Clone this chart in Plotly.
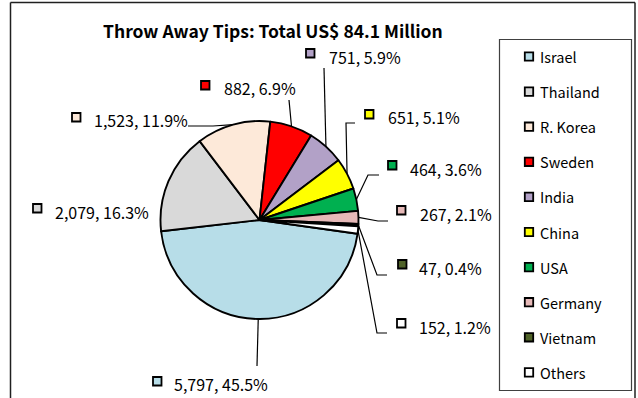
import math
import plotly.graph_objects as go

# ---- data ----
countries = ["Israel", "Thailand", "R. Korea", "Sweden", "India",
             "China", "USA", "Germany", "Vietnam", "Others"]
tips = [5797, 2079, 1523, 882, 751, 651, 464, 267, 47, 152]
shares = [45.5, 16.3, 11.9, 6.9, 5.9, 5.1, 3.6, 2.1, 0.4, 1.2]
title_text = "Throw Away Tips: Total US$ 84.1 Million"

colors = ["#B7DDE8", "#D9D9D9", "#FDE9D9", "#FF0000", "#B2A1C7",
          "#FFFF00", "#00B050", "#E6B9B8", "#4F6228", "#FFFFFF"]

# ---- layout geometry (pixels, origin top-left) ----
W, H = 638, 398
CX, CY, R = 259.5, 220.0, 99.0
ROTATION = 98

# label square top-left, text anchor (left, middle), leader vertices
label_square = [(153, 377), (33, 204), (72, 113), (201, 81), (306, 49),
                (365, 110), (388, 161), (397, 206), (398, 260), (397, 319)]
label_text = [(172, 384), (53, 212), (92, 120), (222, 88), (327, 57),
              (386, 117), (408, 169), (418, 214), (417, 268), (417, 327)]
leader_pts = [[(257, 366)], [], [(188, 126), (213, 126)], [(289, 100)],
              [(324, 68)], [(355, 123), (346, 123)], [(379, 175), (368, 175)],
              [(388, 221), (378, 221)], [(387, 275), (377, 275)],
              [(387, 333), (377, 333)]]

legend_box = (499.5, 39.5, 631.5, 390.5)
legend_sq_x = 529
legend_txt_x = 538
legend_y0, legend_dy = 56.5, 35.1

LABEL_FONT = dict(family="Noto Sans CJK JP, Noto Sans, sans-serif", size=16, color="#000")
LEG_FONT = dict(family="Noto Sans CJK JP, Noto Sans, sans-serif", size=14.5, color="#000")

fig = go.Figure()

fig.add_trace(go.Pie(
    labels=countries, values=tips, sort=False, direction="clockwise",
    rotation=ROTATION, textinfo="none", showlegend=False,
    marker=dict(colors=colors, line=dict(color="#000", width=1.9)),
    domain=dict(x=[(CX - R) / W, (CX + R) / W],
                y=[(H - CY - R) / H, (H - CY + R) / H]),
    hovertemplate="%{label}: %{value}<extra></extra>",
))

shapes = []
annotations = []

# leader lines from each label to the middle of its slice edge
total = sum(tips)
cum = 0.0
for i, v in enumerate(tips):
    mid = ROTATION + 360.0 * (cum + v / 2.0) / total
    cum += v
    if not leader_pts[i]:
        continue
    th = math.radians(mid)
    ex, ey = CX + R * math.sin(th), CY - R * math.cos(th)
    pts = leader_pts[i] + [(ex, ey)]
    path = "M " + " L ".join(f"{x:.2f},{y:.2f}" for x, y in pts)
    shapes.append(dict(type="path", xref="x", yref="y", path=path,
                       line=dict(color="#000", width=1.2), layer="below"))

# data labels
for i, name in enumerate(countries):
    sx, sy = label_square[i]
    shapes.append(dict(type="rect", xref="x", yref="y", x0=sx, y0=sy,
                       x1=sx + 8.5, y1=sy + 8.5, fillcolor=colors[i],
                       line=dict(color="#000", width=1.8), layer="above"))
    tx, ty = label_text[i]
    annotations.append(dict(x=tx, y=ty, xref="x", yref="y",
                            text=f"{tips[i]:,}, {shares[i]}%",
                            showarrow=False, xanchor="left", yanchor="middle",
                            font=LABEL_FONT))

# legend box
x0, y0, x1, y1 = legend_box
shapes.append(dict(type="rect", xref="x", yref="y", x0=x0, y0=y0, x1=x1, y1=y1,
                   fillcolor="#FFFFFF", line=dict(color="#404040", width=1.2),
                   layer="below"))
for i, name in enumerate(countries):
    yy = legend_y0 + i * legend_dy
    shapes.append(dict(type="rect", xref="x", yref="y",
                       x0=legend_sq_x - 4.2, y0=yy - 4.2,
                       x1=legend_sq_x + 4.2, y1=yy + 4.2, fillcolor=colors[i],
                       line=dict(color="#000", width=1.8), layer="above"))
    annotations.append(dict(x=legend_txt_x, y=yy, xref="x", yref="y", text=name,
                            showarrow=False, xanchor="left", yanchor="middle",
                            font=LEG_FONT))

# chart frame
for seg in [((10.5, 2.5), (10.5, 398)), ((10.5, 2.5), (635, 2.5)),
            ((635, 2.5), (635, 398))]:
    (ax, ay), (bx, by) = seg
    shapes.append(dict(type="line", xref="x", yref="y", x0=ax, y0=ay,
                       x1=bx, y1=by, line=dict(color="#202020", width=1.5)))

# title
annotations.append(dict(x=273, y=30, xref="x", yref="y", text=f"<b>{title_text}</b>",
                        showarrow=False, xanchor="center", yanchor="middle",
                        font=dict(family="Noto Sans CJK JP, Noto Sans, sans-serif",
                                  size=17.5, color="#000")))

# invisible trace so the pixel-space axes exist
fig.add_trace(go.Scatter(x=[0, W], y=[0, H], mode="markers",
                         marker=dict(opacity=0), hoverinfo="skip", showlegend=False))

fig.update_layout(
    width=W, height=H, margin=dict(l=0, r=0, t=0, b=0, pad=0),
    paper_bgcolor="#FFFFFF", plot_bgcolor="rgba(0,0,0,0)",
    xaxis=dict(range=[0, W], visible=False, fixedrange=True),
    yaxis=dict(range=[H, 0], visible=False, fixedrange=True),
    shapes=shapes, annotations=annotations, showlegend=False,
)

fig.write_html("out.html")
